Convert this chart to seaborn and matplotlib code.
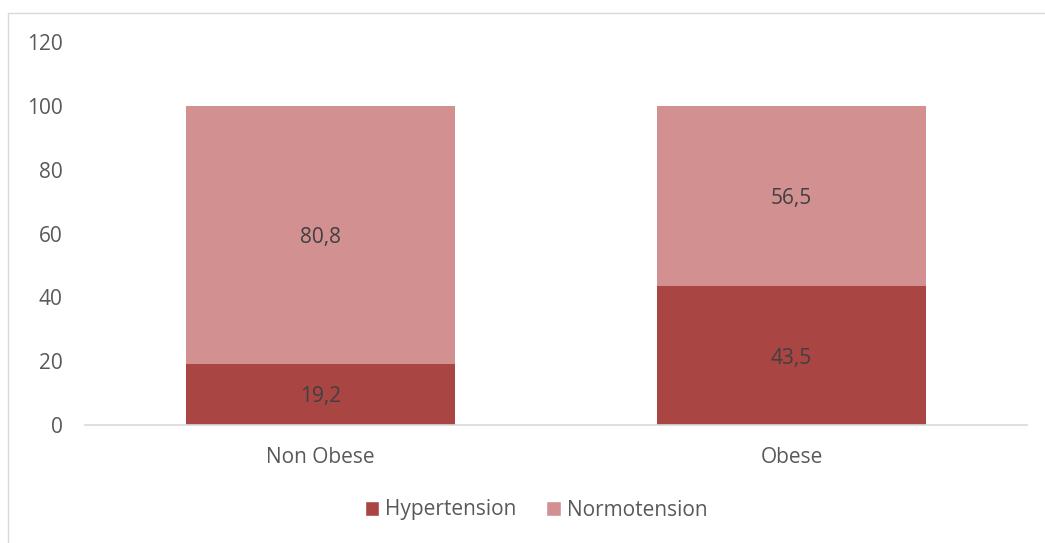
import matplotlib
matplotlib.use("Agg")
import matplotlib.pyplot as plt
from matplotlib.patches import Patch
from matplotlib.lines import Line2D
import seaborn as sns
import pandas as pd

categories = ["Non Obese", "Obese"]
hypertension = [19.2, 43.5]
normotension = [80.8, 56.5]
series_names = ["Hypertension", "Normotension"]
y_ticks = [0, 20, 40, 60, 80, 100, 120]

dark = "#A94543"
light = "#D29190"
text_col = "#595959"
label_col = "#404040"
grid_col = "#D9D9D9"
fs = 15

sns.set_theme(style="white")
plt.rcParams["font.family"] = ["Open Sans", "DejaVu Sans"]

fig = plt.figure(figsize=(10.45, 5.43), dpi=100)
W, H = 1045, 543
ax = fig.add_axes([85 / W, (H - 425) / H, (1027 - 85) / W, (425 - 42) / H])

df = pd.DataFrame({
    "cat": categories,
    "hyp": hypertension,
    "norm": normotension,
})
df["total"] = df["hyp"] + df["norm"]

sns.barplot(data=df, x="cat", y="total", color=light, saturation=1, width=0.573,
            ax=ax, linewidth=0)
sns.barplot(data=df, x="cat", y="hyp", color=dark, saturation=1, width=0.573,
            ax=ax, linewidth=0)

for i, (h, n) in enumerate(zip(hypertension, normotension)):
    ax.text(i, h / 2, f"{h:.1f}".replace(".", ","), ha="center", va="center_baseline",
            fontsize=fs, color=label_col)
    ax.text(i, h + n / 2, f"{n:.1f}".replace(".", ","), ha="center", va="center_baseline",
            fontsize=fs, color=label_col)

ax.set_ylim(0, 120)
ax.set_xlim(-0.5, 1.5)
ax.set_yticks(y_ticks)
ax.set_yticklabels([str(t) for t in y_ticks])
ax.set_xlabel("")
ax.set_ylabel("")
ax.tick_params(axis="y", length=0, pad=16, labelsize=fs, labelcolor=text_col)
ax.tick_params(axis="x", length=0, pad=16, labelsize=fs, labelcolor=text_col)
for s in ["top", "right", "left"]:
    ax.spines[s].set_visible(False)
ax.spines["bottom"].set_color(grid_col)
ax.spines["bottom"].set_linewidth(1.2)

handles = [Patch(facecolor=dark, label=series_names[0]),
           Patch(facecolor=light, label=series_names[1])]
leg = fig.legend(handles=handles, loc="center", bbox_to_anchor=(536 / W, (H - 510) / H),
                 ncol=2, frameon=False, fontsize=fs, handlelength=0.7, handleheight=0.7,
                 handletextpad=0.3, columnspacing=1.4)
for t in leg.get_texts():
    t.set_color(text_col)

# chart area border (top & left visible)
fig.add_artist(Line2D([8 / W, 1], [(H - 13) / H, (H - 13) / H], color=grid_col,
                      linewidth=1, transform=fig.transFigure))
fig.add_artist(Line2D([8 / W, 8 / W], [0, (H - 13) / H], color=grid_col,
                      linewidth=1, transform=fig.transFigure))

fig.savefig("out.png", dpi=100, facecolor="white")
